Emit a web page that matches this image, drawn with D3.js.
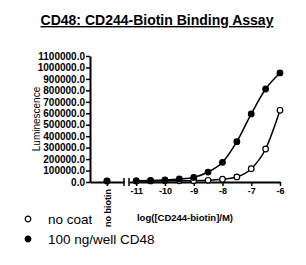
<!DOCTYPE html>
<html>
<head>
<meta charset="utf-8">
<script src="https://cdn.jsdelivr.net/npm/d3@7"></script>
<style>
  body { margin: 0; background: #fff; }
  svg { display: block; font-family: "Liberation Sans", Arial, sans-serif; }
  .axis path, .axis line { stroke: #000; }
  .axis text { fill: #000; font-weight: bold; }
</style>
</head>
<body>
<div id="chart"></div>
<script>
// log concentration of CD244-biotin (M)
const logConc = [-11, -10.5, -10, -9.5, -9, -8.5, -8, -7.5, -7, -6.5, -6];
const noCoat = [9000, 9000, 10000, 11000, 12000, 15000, 24000, 44000, 116000, 288000, 626000];
const cd48 = [10000, 13000, 18000, 26000, 40000, 87000, 172000, 352000, 594000, 812000, 952000];
// "no biotin" control wells
const controlLabels = ['no biotin'];
const noCoatControl = [8000];
const cd48Control = [10000];
const yTicks = [0, 100000, 200000, 300000, 400000, 500000, 600000,
  700000, 800000, 900000, 1000000, 1100000];
const xTicks = [-11, -10, -9, -8, -7, -6];
const seriesNames = ['no coat', '100 ng/well CD48'];

const width = 306, height = 265;
const svg = d3.select('#chart').append('svg')
  .attr('width', width)
  .attr('height', height);

const y = d3.scaleLinear().domain([0, 1100000]).range([182, 56]);
const xCtrl = d3.scalePoint().domain(controlLabels).range([90, 124]).padding(0.5);
const x = d3.scaleLinear().domain([-11.25, -6]).range([129, 280]);

// title
svg.append('text')
  .attr('x', 157).attr('y', 25)
  .attr('text-anchor', 'middle')
  .style('font-size', '14px')
  .style('font-weight', 'bold')
  .style('text-decoration', 'underline')
  .text('CD48: CD244-Biotin Binding Assay');

// y axis
const yAxis = svg.append('g')
  .attr('class', 'axis')
  .attr('transform', 'translate(90,0)')
  .call(d3.axisLeft(y).tickValues(yTicks).tickSize(4).tickSizeOuter(0)
    .tickFormat(d => d.toFixed(1)));
yAxis.select('.domain').attr('stroke-width', 2);
yAxis.selectAll('.tick line').attr('stroke-width', 1.5);
yAxis.selectAll('.tick text').style('font-size', '10px').attr('x', -5);

svg.append('text')
  .attr('transform', 'translate(40,119) rotate(-90)')
  .attr('text-anchor', 'middle')
  .style('font-size', '10px')
  .text('Luminescence');

// x axis, first segment (control)
const xAxisCtrl = svg.append('g')
  .attr('class', 'axis')
  .attr('transform', 'translate(0,182)')
  .call(d3.axisBottom(xCtrl).tickSize(4).tickSizeOuter(0));
xAxisCtrl.select('.domain').attr('stroke-width', 2);
xAxisCtrl.selectAll('.tick line').attr('stroke-width', 1.5);
xAxisCtrl.selectAll('.tick text')
  .style('font-size', '9px')
  .attr('transform', 'rotate(-90)')
  .attr('text-anchor', 'end')
  .attr('x', -7).attr('y', 0).attr('dy', '0.35em');

// x axis, second segment (concentrations)
const xAxis = svg.append('g')
  .attr('class', 'axis')
  .attr('transform', 'translate(0,182)')
  .call(d3.axisBottom(x).tickValues(xTicks).tickSize(4).tickSizeOuter(0)
    .tickFormat(d => String(d)));
xAxis.select('.domain').attr('stroke-width', 2);
xAxis.selectAll('.tick line').attr('stroke-width', 1.5);
xAxis.selectAll('.tick text').style('font-size', '9px').attr('y', 6);

// break marks
svg.selectAll('.break')
  .data([xCtrl.range()[1], x.range()[0]])
  .enter().append('line')
  .attr('class', 'break')
  .attr('x1', d => d).attr('x2', d => d)
  .attr('y1', 178).attr('y2', 186)
  .attr('stroke', '#000').attr('stroke-width', 1.5);

svg.append('text')
  .attr('x', (90 + 280) / 2).attr('y', 221)
  .attr('text-anchor', 'middle')
  .style('font-size', '9.5px')
  .style('font-weight', 'bold')
  .text('log([CD244-biotin]/M)');

// curves
const line = d3.line()
  .x(d => x(d[0]))
  .y(d => y(d[1]))
  .curve(d3.curveMonotoneX);

const series = [
  { name: seriesNames[0], values: noCoat, control: noCoatControl, fill: '#fff' },
  { name: seriesNames[1], values: cd48, control: cd48Control, fill: '#000' }
];

series.forEach(s => {
  const pts = logConc.map((c, i) => [c, s.values[i]]);
  svg.append('path')
    .datum(pts)
    .attr('fill', 'none')
    .attr('stroke', '#000')
    .attr('stroke-width', 1.5)
    .attr('d', line);
});

series.forEach(s => {
  const pts = logConc.map((c, i) => [c, s.values[i]]);
  svg.append('g').selectAll('circle')
    .data(pts)
    .enter().append('circle')
    .attr('cx', d => x(d[0]))
    .attr('cy', d => y(d[1]))
    .attr('r', 2.8)
    .attr('fill', s.fill)
    .attr('stroke', '#000')
    .attr('stroke-width', 1.2);
  svg.append('g').selectAll('circle')
    .data(controlLabels.map((c, i) => [c, s.control[i]]))
    .enter().append('circle')
    .attr('cx', d => xCtrl(d[0]))
    .attr('cy', d => y(d[1]))
    .attr('r', 2.8)
    .attr('fill', s.fill)
    .attr('stroke', '#000')
    .attr('stroke-width', 1.2);
});

// legend
const legend = svg.append('g')
  .selectAll('g')
  .data(series)
  .enter().append('g')
  .attr('transform', (d, i) => 'translate(28,' + (219 + i * 20) + ')');
legend.append('circle')
  .attr('r', 2.8)
  .attr('fill', d => d.fill)
  .attr('stroke', '#000')
  .attr('stroke-width', 1.2);
legend.append('text')
  .attr('x', 20).attr('dy', '0.35em')
  .style('font-size', '13.5px')
  .text(d => d.name);
</script>
</body>
</html>
